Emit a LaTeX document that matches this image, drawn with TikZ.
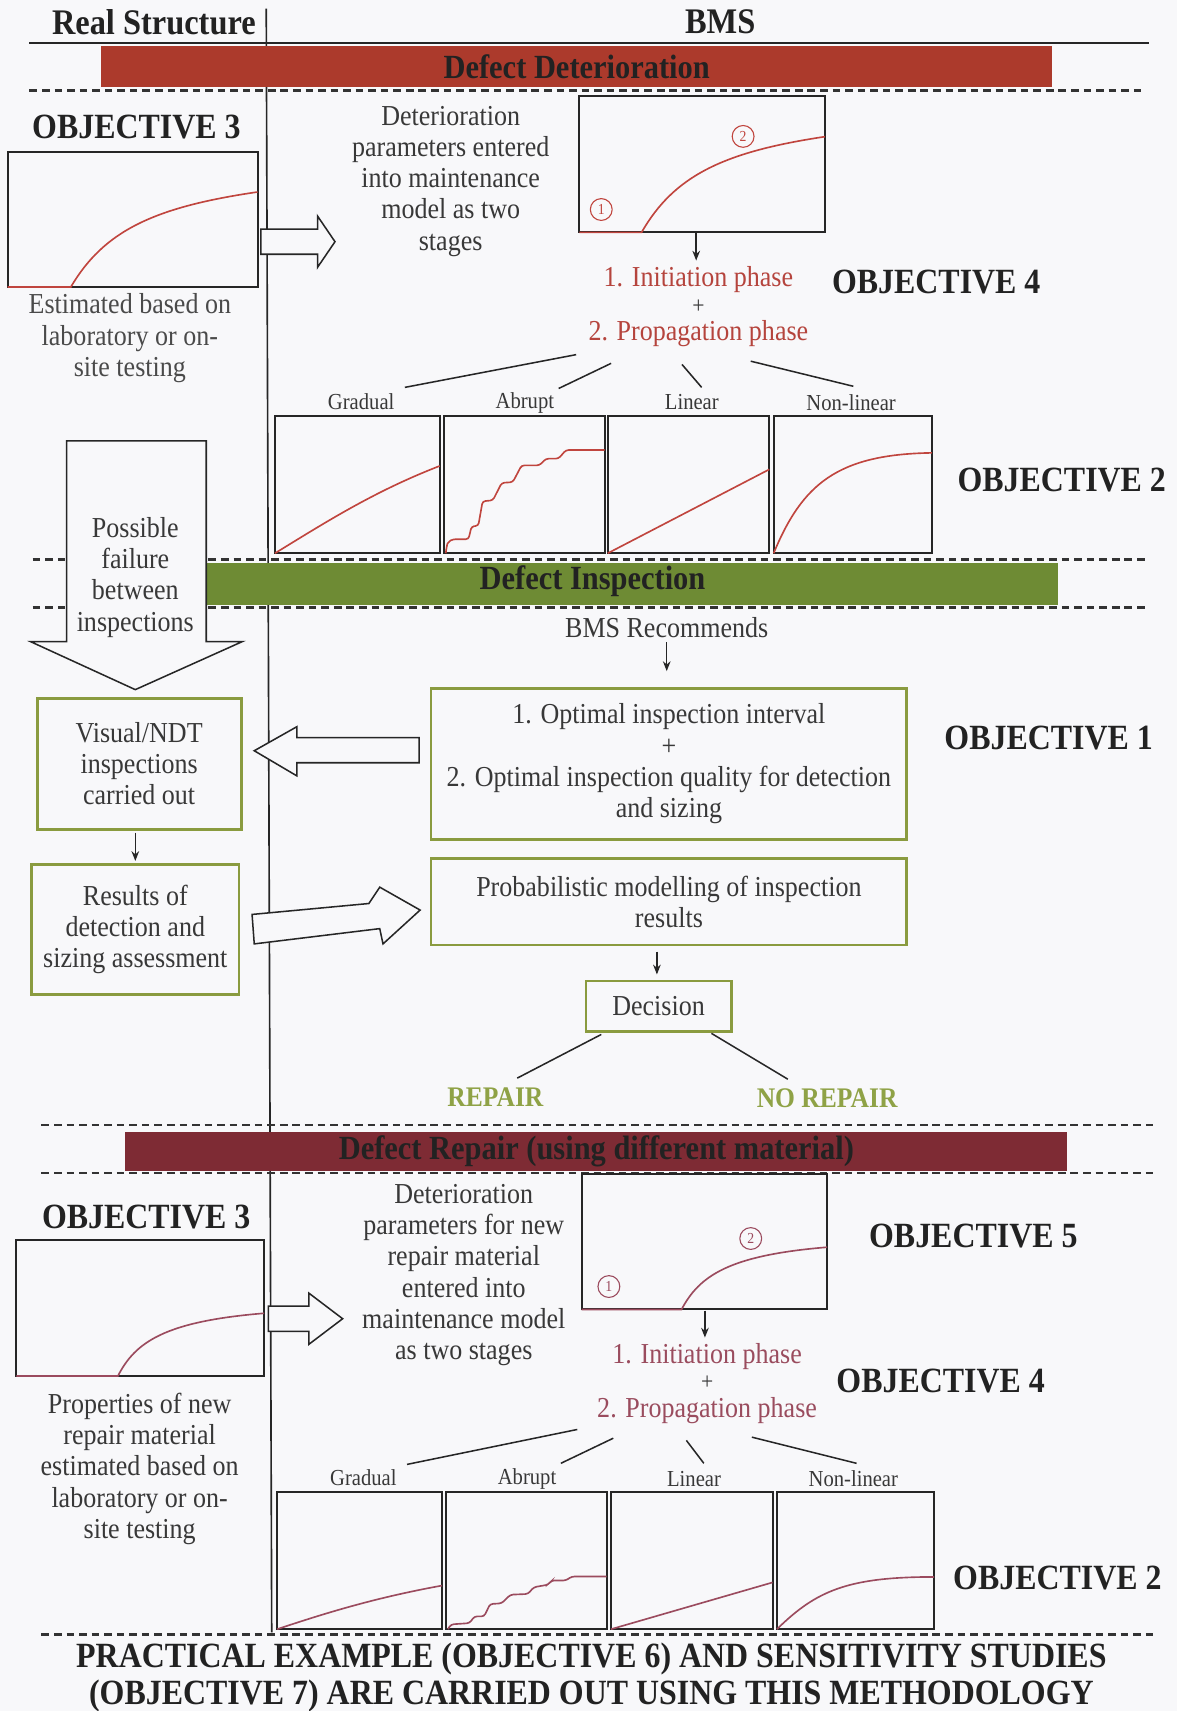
\documentclass[tikz,border=0pt]{standalone}
\usepackage{fontspec}
\setmainfont{Liberation Serif}[FakeStretch=0.9]
\usetikzlibrary{arrows.meta,calc}
\definecolor{bgc}{HTML}{F8F8FA}
\definecolor{txtdark}{HTML}{222222}
\definecolor{txtbody}{HTML}{383838}
\definecolor{txtgray}{HTML}{4A4A4A}
\definecolor{redtxt}{HTML}{B5443D}
\definecolor{redcurve}{HTML}{C0453E}
\definecolor{martxt}{HTML}{9A4C5E}
\definecolor{marcurve}{HTML}{9B4B5E}
\definecolor{bandred}{HTML}{AC3A2C}
\definecolor{bandgreen}{HTML}{6E8B34}
\definecolor{bandmaroon}{HTML}{7E2B34}
\definecolor{grline}{HTML}{8A9B3F}
\definecolor{reptxt}{HTML}{8FA246}
\tikzset{
  hdr/.style={font=\fontsize{33}{36}\selectfont\bfseries, text=txtdark, inner sep=0pt},
  obj/.style={font=\fontsize{32.5}{36}\selectfont\bfseries, text=txtdark, inner sep=0pt},
  body/.style={font=\fontsize{26.5}{28.6}\selectfont, text=txtbody, align=center, inner sep=0pt},
  plusmark/.style={font=\fontsize{22}{22}\selectfont, text=txtbody, inner sep=0pt, text height=10pt, text depth=0pt},
  lbl/.style={font=\fontsize{21}{24}\selectfont, text=txtbody, inner sep=1pt},
  phaseA/.style={body, text=redtxt},
  phaseB/.style={body, text=martxt},
  plotbox/.style={draw=black!85, line width=1.8pt, inner sep=0pt, outer sep=0pt},
  grbox/.style={body, draw=grline, line width=2.6pt, outer sep=0pt},
  bandbox/.style={inner sep=0pt, outer sep=0pt, font=\fontsize{31}{34}\selectfont\bfseries, text=txtdark},
  bandtxt/.style={font=\fontsize{31}{34}\selectfont\bfseries, text=txtdark, inner sep=0pt},
  dashln/.style={dash pattern=on 7pt off 4.5pt, line width=2.5pt, draw=black!80},
  arr/.style={line width=1.3pt, draw=black!85, -{Stealth[length=9pt,width=7pt]}},
  conn/.style={line width=1.4pt, draw=black!85},
  blockar/.style={draw=black!85, line width=1.4pt, fill=bgc, line join=miter},
  curveA/.style={draw=redcurve, line width=1.5pt},
  curveB/.style={draw=marcurve, line width=1.5pt},
  numA/.style={circle, draw=redcurve, line width=1pt, inner sep=0pt, minimum size=20pt,
    font=\fontsize{14}{14}\selectfont, text=redcurve},
  numB/.style={numA, draw=marcurve, text=marcurve},
  repl/.style={font=\fontsize{26}{28}\selectfont\bfseries, text=reptxt, inner sep=0pt},
  closing/.style={font=\fontsize{32.5}{34}\selectfont\bfseries, text=txtdark, align=center, inner sep=0pt},
}
\begin{document}
\begin{tikzpicture}[x=1pt,y=-1pt]
\useasboundingbox (0,0) rectangle (1079,1568);
\fill[bgc] (0,0) rectangle (1079,1568);

% ---------- header ----------
\node[hdr] (rs) at (141,20) {Real Structure};
\node[hdr] (bms) at (660,20) {BMS};
\draw[line width=1.8pt, black!85] (27,39) -- (1053,39);
\draw[line width=1.5pt, black!85] (244,8) -- (249,1496);

% ---------- dashed separators ----------
\draw[dashln] (27,83) -- (1050,83);
\draw[dashln] (30,513) -- (1050,513);
\draw[dashln] (30,557) -- (1050,557);
\draw[dashln] (38,1031) -- (1058,1031);
\draw[dashln] (38,1075) -- (1058,1075);
\draw[dashln] (38,1498) -- (1058,1498);

% ---------- phase bands ----------
\node[bandbox, fill=bandred, minimum width=871pt, minimum height=38pt] (bdet) at (528.5,61) {Defect Deterioration};
\node[bandbox, fill=bandgreen, minimum width=781pt, minimum height=38pt] (bins) at (579.5,535) {};
\node[bandtxt] (tins) at (543,533) {Defect Inspection};
\node[bandbox, fill=bandmaroon, minimum width=863pt, minimum height=36pt] (brep) at (546.5,1055) {Defect Repair (using different material)};

% ================= Defect deterioration =================
\node[obj] (o3a) at (125,116) {OBJECTIVE 3};
\node[plotbox, minimum width=229pt, minimum height=124pt] (ga) at (121.5,201) {};
\begin{scope}[shift={(ga.north west)}, x=229pt, y=-124pt]
  \draw[curveA] (0,1) -- (0.253,1) .. controls (0.384,0.589) and (0.581,0.411) .. (1,0.298);
\end{scope}
\node[body, text=txtgray] (esta) at (119,310) {Estimated based on\\laboratory or on-\\site testing};
\draw[blockar] (239,210) -- (291,210) -- (291,198) -- (307,221.5) -- (291,245) -- (291,233) -- (239,233) -- cycle;

\node[body] (dpar) at (413,166) {Deterioration\\parameters entered\\into maintenance\\model as two\\stages};
\node[plotbox, minimum width=225pt, minimum height=125pt] (gb) at (643.5,150.5) {};
\begin{scope}[shift={(gb.north west)}, x=225pt, y=-125pt]
  \draw[curveA] (0,1) -- (0.253,1) .. controls (0.384,0.589) and (0.581,0.411) .. (1,0.298);
\end{scope}
\node[numA] (n1a) at (551,192) {1};
\node[numA] (n2a) at (681,125) {2};

\node[phaseA] (init1) at (640,256) {1. Initiation phase};
\node[plusmark] (plus1) at (640,282) {+};
\node[phaseA] (prop1) at (640,306) {2. Propagation phase};
\draw[arr] ($(gb.south)+(-5.5,0)$) -- ($(init1.north)+(-2,-5)$);
\node[obj] (o4a) at (858,258) {OBJECTIVE 4};

\node[lbl] (lg1) at (331,368) {Gradual};
\node[lbl] (la1) at (481,369) {Abrupt};
\node[lbl] (ll1) at (634,368) {Linear};
\node[lbl] (ln1) at (780,369) {Non-linear};
\draw[conn] ($(prop1.center)+(-112,19)$) -- ($(lg1.center)+(40,-13)$);
\draw[conn] ($(prop1.center)+(-80,27)$) -- ($(la1.center)+(31,-13)$);
\draw[conn] ($(prop1.center)+(-15,28)$) -- ($(ll1.center)+(9,-13)$);
\draw[conn] ($(prop1.center)+(48,25)$) -- ($(ln1.center)+(2,-15)$);

\node[plotbox, minimum width=151pt, minimum height=126pt] (c1) at (327.5,444) {};
\node[plotbox, minimum width=147pt, minimum height=126pt] (c2) at (480.5,444) {};
\node[plotbox, minimum width=148pt, minimum height=126pt] (c3) at (631,444) {};
\node[plotbox, minimum width=145pt, minimum height=126pt] (c4) at (781.5,444) {};
\begin{scope}[shift={(c1.north west)}, x=151pt, y=-126pt]
  \draw[curveA] (0,1) .. controls (0.3,0.78) and (0.6,0.55) .. (1,0.365);
\end{scope}
\begin{scope}[shift={(c2.north west)}, x=147pt, y=-126pt]
  \draw[curveA, rounded corners=2.5pt] (0.01,1) .. controls (0.02,0.92) .. (0.055,0.898) -- (0.152,0.898) -- (0.171,0.805)
    -- (0.213,0.8) -- (0.24,0.622) -- (0.304,0.615) -- (0.359,0.488) -- (0.428,0.483)
    -- (0.483,0.361) -- (0.594,0.361) -- (0.635,0.312) -- (0.713,0.312) -- (0.76,0.249) -- (1,0.249);
\end{scope}
\begin{scope}[shift={(c3.north west)}, x=148pt, y=-126pt]
  \draw[curveA] (0,1) -- (1,0.39);
\end{scope}
\begin{scope}[shift={(c4.north west)}, x=145pt, y=-126pt]
  \draw[curveA] (0,1) .. controls (0.18,0.5) and (0.4,0.28) .. (1,0.27);
\end{scope}
\node[obj] (o2a) at (973,440) {OBJECTIVE 2};

% ---------- failure arrow on the structure side ----------
\draw[blockar] (61,404) -- (189,404) -- (189,588) -- (222,588) -- (124,632) -- (28,588) -- (61,588) -- cycle;
\node[body] (pfail) at (124,529) {Possible\\failure\\between\\inspections};

% ================= Defect inspection =================
\node[body] (bmsr) at (611,575) {BMS Recommends};
\node[grbox, minimum width=436pt, minimum height=138pt] (opt) at (613,700)
  {1. Optimal inspection interval\\+\\2. Optimal inspection quality for detection\\and sizing};
\draw[arr] ($(bmsr.south)+(0,4)$) -- ($(opt.north)+(-2,-16)$);
\node[obj] (o1) at (961,676) {OBJECTIVE 1};

\node[grbox, minimum width=187pt, minimum height=120pt] (vis) at (127.5,700) {Visual/NDT\\inspections\\carried out};
\draw[blockar] (384,676) -- (272,676) -- (272,666) -- (233,688) -- (272,711) -- (272,699) -- (384,699) -- cycle;
\node[grbox, minimum width=190pt, minimum height=119pt] (res) at (124,851.5) {Results of\\detection and\\sizing assessment};
\draw[arr] ($(vis.south)+(-3.5,3)$) -- ($(res.north)+(0,-3)$);
\draw[blockar] (231,838) -- (338,828) -- (348,813) -- (385,834) -- (351,865) -- (348,851) -- (233,865) -- cycle;

\node[grbox, minimum width=436pt, minimum height=79pt] (prob) at (613,826.5) {Probabilistic modelling of inspection\\results};
\node[grbox, minimum width=133pt, minimum height=46pt] (dec) at (603.5,922) {Decision};
\draw[arr] ($(prob.south)+(-11,6)$) -- ($(dec.north)+(-1.5,-6)$);
\node[repl] (rep) at (454,1005) {REPAIR};
\node[repl] (norep) at (758,1006) {NO REPAIR};
\draw[conn] ($(dec.center)+(-52.5,26)$) -- ($(rep.center)+(20,-17)$);
\draw[conn] ($(dec.center)+(48.5,25)$) -- ($(norep.center)+(-36,-17)$);

% ================= Defect repair =================
\node[obj] (o3b) at (134,1115) {OBJECTIVE 3};
\node[plotbox, minimum width=227pt, minimum height=125pt] (gc) at (128.5,1198.5) {};
\begin{scope}[shift={(gc.north west)}, x=227pt, y=-125pt]
  \draw[curveB] (0,1) -- (0.41,1) .. controls (0.48,0.75) and (0.6,0.6) .. (1,0.54);
\end{scope}
\draw[blockar] (246,1197) -- (283,1197) -- (283,1185) -- (314,1208.5) -- (283,1232) -- (283,1220) -- (246,1220) -- cycle;
\node[body] (propn) at (128,1346) {Properties of new\\repair material\\estimated based on\\laboratory or on-\\site testing};

\node[body] (dparb) at (425,1168.5) {Deterioration\\parameters for new\\repair material\\entered into\\maintenance model\\as two stages};
\node[plotbox, minimum width=225pt, minimum height=124pt] (gd) at (645.5,1138) {};
\begin{scope}[shift={(gd.north west)}, x=225pt, y=-124pt]
  \draw[curveB] (0,1) -- (0.407,1) .. controls (0.48,0.75) and (0.6,0.6) .. (1,0.54);
\end{scope}
\node[numB] (n1b) at (558,1179) {1};
\node[numB] (n2b) at (688,1135) {2};
\node[obj] (o5) at (892,1133) {OBJECTIVE 5};

\node[phaseB] (init2) at (648,1243) {1. Initiation phase};
\node[plusmark] (plus2) at (648,1268) {+};
\node[phaseB] (prop2) at (648,1293) {2. Propagation phase};
\draw[arr] ($(gd.south)+(0.5,1)$) -- ($(init2.north)+(-2,-5)$);
\node[obj] (o4b) at (862,1266) {OBJECTIVE 4};

\node[lbl] (lg2) at (333,1354) {Gradual};
\node[lbl] (la2) at (483,1355) {Abrupt};
\node[lbl] (ll2) at (636,1355) {Linear};
\node[lbl] (ln2) at (782,1355) {Non-linear};
\draw[conn] ($(prop2.center)+(-119,17)$) -- ($(lg2.center)+(40,-12)$);
\draw[conn] ($(prop2.center)+(-86,25)$) -- ($(la2.center)+(31,-14)$);
\draw[conn] ($(prop2.center)+(-19,27)$) -- ($(ll2.center)+(9,-14)$);
\draw[conn] ($(prop2.center)+(41,24)$) -- ($(ln2.center)+(3,-14)$);

\node[plotbox, minimum width=151pt, minimum height=126pt] (d1) at (329.5,1430) {};
\node[plotbox, minimum width=147pt, minimum height=126pt] (d2) at (482.5,1430) {};
\node[plotbox, minimum width=148pt, minimum height=126pt] (d3) at (634,1430) {};
\node[plotbox, minimum width=144pt, minimum height=126pt] (d4) at (784,1430) {};
\begin{scope}[shift={(d1.north west)}, x=151pt, y=-126pt]
  \draw[curveB] (0,1) .. controls (0.3,0.88) and (0.6,0.77) .. (1,0.683);
\end{scope}
\begin{scope}[shift={(d2.north west)}, x=147pt, y=-126pt]
  \draw[curveB, rounded corners=2.5pt] (0.01,1) -- (0.03,0.965) -- (0.145,0.956) -- (0.175,0.907) -- (0.236,0.907)
    -- (0.273,0.817) -- (0.345,0.812) -- (0.4,0.749) -- (0.509,0.744) -- (0.545,0.695)
    -- (0.636,0.676) -- (0.655,0.646) -- (0.745,0.646) -- (0.782,0.617) -- (1,0.617);
\end{scope}
\begin{scope}[shift={(d3.north west)}, x=148pt, y=-126pt]
  \draw[curveB] (0,1) -- (1,0.66);
\end{scope}
\begin{scope}[shift={(d4.north west)}, x=144pt, y=-126pt]
  \draw[curveB] (0,1) .. controls (0.25,0.72) and (0.45,0.62) .. (1,0.62);
\end{scope}
\node[obj] (o2b) at (969,1446) {OBJECTIVE 2};

% ---------- closing statement ----------
\node[closing] (closer) at (542,1537) {PRACTICAL EXAMPLE (OBJECTIVE 6) AND SENSITIVITY STUDIES\\(OBJECTIVE 7) ARE CARRIED OUT USING THIS METHODOLOGY};
\end{tikzpicture}
\end{document}
